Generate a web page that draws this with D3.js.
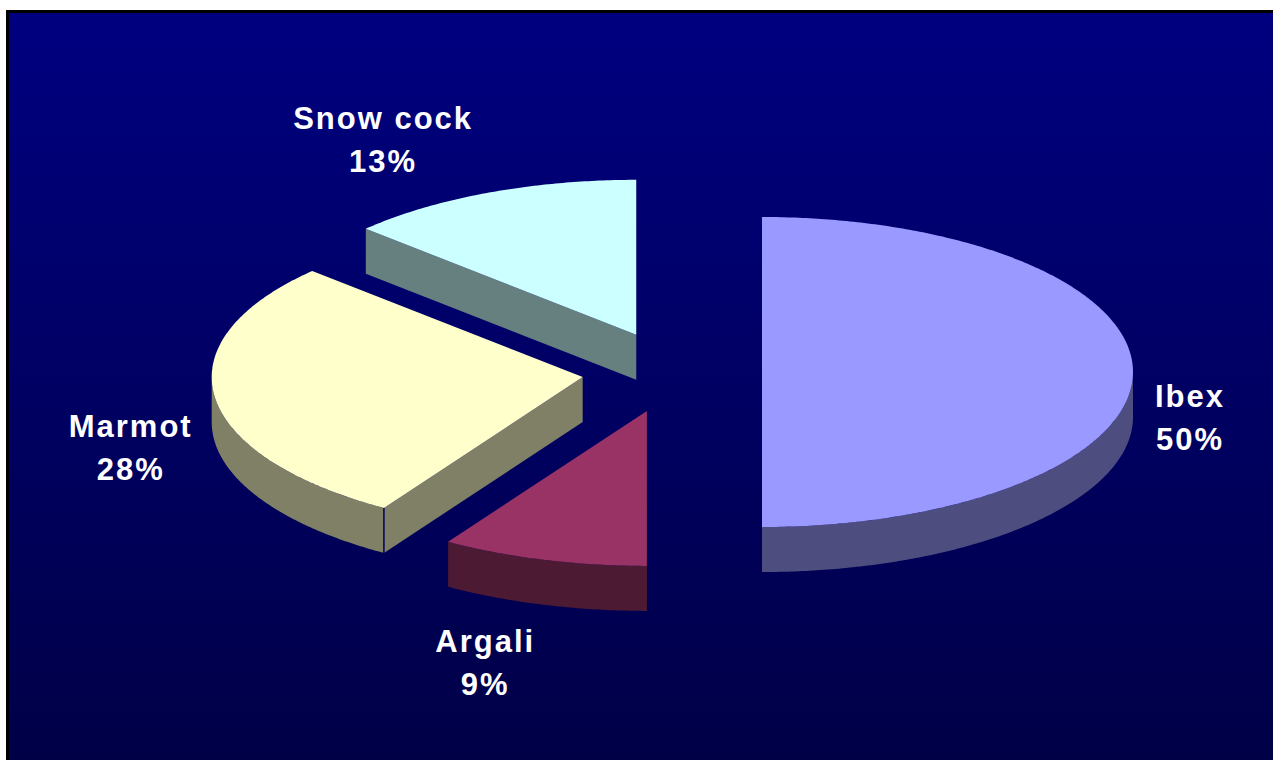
<!DOCTYPE html>
<html>
<head>
<meta charset="utf-8">
<script src="https://cdn.jsdelivr.net/npm/d3@7"></script>
<style>
  body { margin: 0; background: #ffffff; }
  svg { display: block; }
</style>
</head>
<body>
<div id="chart"></div>
<script>
// data
var species = ["Ibex", "Argali", "Marmot", "Snow cock"];
var shares = [50, 9, 28, 13];
var topColors = ["#9999ff", "#993366", "#ffffcc", "#ccffff"];
var sideColors = ["#4d4d80", "#4d1a33", "#808066", "#668080"];

// layout
var width = 1273, height = 760;
var cx = 672, cy = 372,      // pie centre (before explosion)
  rx = 371, ry = 155,        // ellipse radii of the top face
  depth = 45,                // thickness of the pie
  explode = 90, explodeY = 0.45,
  labelGapX = 22, labelGapY = 30, lineGap = 43, capH = 23;

var svg = d3.select("#chart")
  .append("svg")
  .attr("width", width)
  .attr("height", height);

// background: black edge + blue gradient panel
var grad = svg.append("defs").append("linearGradient")
  .attr("id", "bg")
  .attr("x1", 0).attr("y1", 0).attr("x2", 0).attr("y2", 1);
grad.append("stop").attr("offset", "0%").attr("stop-color", "#000080");
grad.append("stop").attr("offset", "100%").attr("stop-color", "#000046");

svg.append("rect")
  .attr("x", 6).attr("y", 10)
  .attr("width", width).attr("height", height)
  .attr("fill", "#000000");
svg.append("rect")
  .attr("x", 9).attr("y", 13)
  .attr("width", width).attr("height", height)
  .attr("fill", "url(#bg)");

var pie = d3.pie().sort(null).value(d => d.value);
var slices = pie(species.map((s, i) => ({name: s, value: shares[i], i: i})));

// point on the ellipse of a slice, angle measured clockwise from 12 o'clock
function pt(c, a, dy) {
  return [c.x + rx * Math.sin(a), c.y - ry * Math.cos(a) + (dy || 0)];
}
function arcPts(c, a0, a1, dy) {
  var n = Math.max(2, Math.ceil(Math.abs(a1 - a0) / 0.01));
  return d3.range(n + 1).map(k => pt(c, a0 + (a1 - a0) * k / n, dy));
}

slices.forEach(s => {
  s.mid = (s.startAngle + s.endAngle) / 2;
  s.c = {
    x: cx + explode * Math.sin(s.mid),
    y: cy - explode * explodeY * Math.cos(s.mid)
  };
});

var line = d3.line();
var walls = svg.append("g"), tops = svg.append("g"), edges = svg.append("g");

slices.forEach(s => {
  var i = s.data.i, c = s.c;

  // outer wall (front half of the ellipse only)
  var lo = Math.max(s.startAngle, Math.PI / 2),
    hi = Math.min(s.endAngle, 3 * Math.PI / 2);
  if (lo < hi) {
    var pts = arcPts(c, lo, hi, 0).concat(arcPts(c, hi, lo, depth));
    walls.append("path")
      .attr("d", line(pts) + "Z")
      .attr("fill", sideColors[i]);
  }

  // radial walls that face the viewer
  [[s.startAngle, Math.sin(s.startAngle) < -1e-6],
   [s.endAngle, Math.sin(s.endAngle) > 1e-6]].forEach(e => {
    if (!e[1]) return;
    var p = pt(c, e[0], 0);
    walls.append("path")
      .attr("d", line([[c.x, c.y], p, [p[0], p[1] + depth], [c.x, c.y + depth]]) + "Z")
      .attr("fill", sideColors[i]);
    if (lo < hi) {
      edges.append("line")
        .attr("x1", p[0]).attr("y1", p[1])
        .attr("x2", p[0]).attr("y2", p[1] + depth)
        .attr("stroke", "#000060")
        .attr("stroke-width", 1.5);
    }
  });

  // top face
  tops.append("path")
    .attr("d", line([[c.x, c.y]].concat(arcPts(c, s.startAngle, s.endAngle, 0))) + "Z")
    .attr("fill", topColors[i]);
});

// labels
var labels = svg.append("g")
  .attr("font-family", "'Liberation Sans', Arial, sans-serif")
  .attr("font-weight", "bold")
  .attr("font-size", 31)
  .attr("letter-spacing", 2)
  .attr("fill", "#ffffff")
  .attr("text-anchor", "middle");

function clamp(v) { return Math.max(-1, Math.min(1, v)); }

slices.forEach(s => {
  var a = s.mid;
  var p = pt(s.c, a, Math.cos(a) <= 1e-6 ? depth : 0);
  var vx = rx * Math.sin(a), vy = -ry * Math.cos(a);
  var len = Math.hypot(vx, vy);
  var ux = vx / len, uy = vy / len;

  var t = labels.append("text");
  t.append("tspan").attr("x", 0).attr("y", capH).text(s.data.name);
  t.append("tspan").attr("x", 0).attr("y", capH + lineGap).text(s.data.value + "%");
  var b = t.node().getBBox();
  var w = b.width, h = capH + lineGap;

  var mx = p[0] + ux * labelGapX + clamp(1.6 * ux) * w / 2,
    my = p[1] + uy * labelGapY + clamp(2 * uy) * h / 2;
  t.attr("transform", "translate(" + mx + "," + (my - h / 2) + ")");
});
</script>
</body>
</html>
